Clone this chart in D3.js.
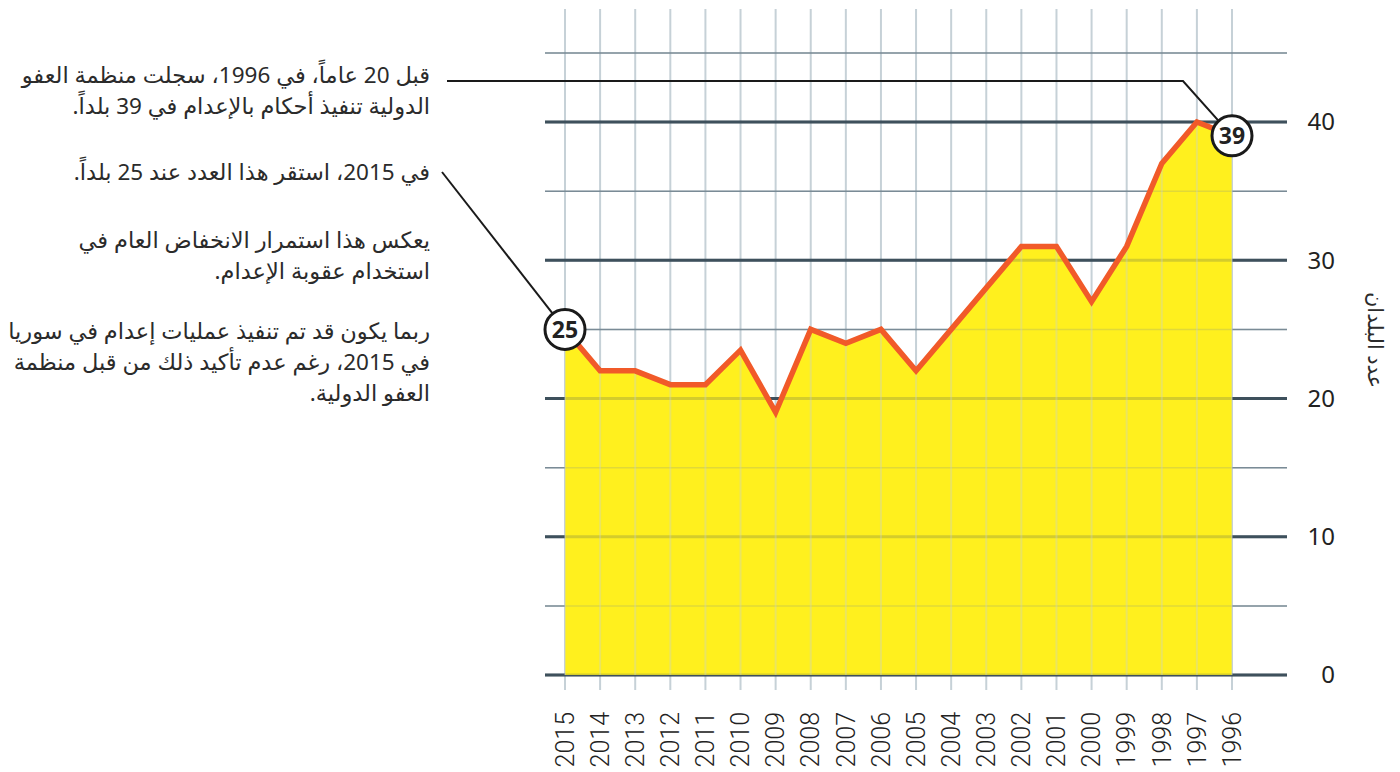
<!DOCTYPE html>
<html>
<head>
<meta charset="utf-8">
<script src="https://cdnjs.cloudflare.com/ajax/libs/d3/7.8.5/d3.min.js"></script>
<style>
body { margin: 0; background: #fff; }
svg { display: block; font-family: "Noto Sans", "DejaVu Sans", sans-serif; }
</style>
</head>
<body>
<script>
// عدد البلدان التي نفذت أحكام إعدام
var years = [2015, 2014, 2013, 2012, 2011, 2010, 2009, 2008, 2007, 2006,
             2005, 2004, 2003, 2002, 2001, 2000, 1999, 1998, 1997, 1996]
var counts = [25, 22, 22, 21, 21, 23.5, 19, 25, 24, 25,
              22, 25, 28, 31, 31, 27, 31, 37, 40, 39]
var yTicks = [0, 10, 20, 30, 40]
var gridValues = [0, 5, 10, 15, 20, 25, 30, 35, 40, 45]
var notes = [
  ["قبل 20 عاماً، في 1996، سجلت منظمة العفو", "الدولية تنفيذ أحكام بالإعدام في 39 بلداً."],
  ["في 2015، استقر هذا العدد عند 25 بلداً."],
  ["يعكس هذا استمرار الانخفاض العام في", "استخدام عقوبة الإعدام."],
  ["ربما يكون قد تم تنفيذ عمليات إعدام في سوريا", "في 2015، رغم عدم تأكيد ذلك من قبل منظمة", "العفو الدولية."]
]
var noteTops = [75, 172, 240, 331]
var yTitle = "عدد البلدان"

var width = 1400, height = 772

var svg = d3.select("body").append("svg")
  .attr("width", width)
  .attr("height", height)

var x = d3.scalePoint()
  .domain(years)
  .range([565, 1232])

var y = d3.scaleLinear()
  .domain([0, 40])
  .range([675, 122])

var data = years.map(function(yr, i) { return {year: yr, value: counts[i]} })

// vertical grid
svg.append("g").selectAll("line")
  .data(years)
  .join("line")
  .attr("x1", d => x(d)).attr("x2", d => x(d))
  .attr("y1", 9).attr("y2", 690)
  .attr("stroke", "#c6d1d7")
  .attr("stroke-width", 2)

function drawHGrid(g) {
  g.selectAll("line")
    .data(gridValues)
    .join("line")
    .attr("x1", 545).attr("x2", 1287)
    .attr("y1", d => y(d)).attr("y2", d => y(d))
    .attr("stroke", d => d % 10 == 0 ? "#3e505c" : "#7a8b96")
    .attr("stroke-width", d => d % 10 == 0 ? 3 : 1.5)
}
svg.append("g").call(drawHGrid)

var area = d3.area()
  .x(d => x(d.year))
  .y0(y(0))
  .y1(d => y(d.value))

svg.append("path")
  .datum(data)
  .attr("d", area)
  .attr("fill", "#fff01e")

// grid seen through the fill
svg.append("g").attr("opacity", 0.22).call(drawHGrid)
svg.append("g").attr("opacity", 0.35).selectAll("line")
  .data(years)
  .join("line")
  .attr("x1", d => x(d)).attr("x2", d => x(d))
  .attr("y1", d => y(counts[years.indexOf(d)])).attr("y2", 675)
  .attr("stroke", "#c6d1d7")
  .attr("stroke-width", 2)

var line = d3.line()
  .x(d => x(d.year))
  .y(d => y(d.value))

svg.append("path")
  .datum(data)
  .attr("d", line)
  .attr("fill", "none")
  .attr("stroke", "#f15a29")
  .attr("stroke-width", 5.5)
  .attr("stroke-linejoin", "miter")

// y axis labels
svg.append("g").selectAll("text")
  .data(yTicks)
  .join("text")
  .attr("x", 1335)
  .attr("y", d => y(d))
  .attr("dy", "0.35em")
  .attr("text-anchor", "end")
  .attr("font-size", 24)
  .attr("fill", "#222")
  .text(d => d)

svg.append("text")
  .attr("transform", "translate(1368,340) rotate(90)")
  .attr("text-anchor", "middle")
  .attr("font-size", 21)
  .attr("fill", "#2b2b2b")
  .text(yTitle)

// x axis labels
svg.append("g").selectAll("text")
  .data(years)
  .join("text")
  .attr("transform", d => "translate(" + x(d) + ",712) rotate(-90)")
  .attr("dy", "0.35em")
  .attr("text-anchor", "end")
  .attr("font-size", 25)
  .attr("font-family", "Roboto, 'Noto Sans', sans-serif")
  .attr("font-weight", 300)
  .attr("fill", "#222")
  .text(d => d)

// annotations
notes.forEach(function(lines, i) {
  var t = svg.append("text")
    .attr("direction", "rtl")
    .attr("text-anchor", "start")
    .attr("font-size", 22.5)
    .attr("fill", "#2b2b2b")
  lines.forEach(function(s, j) {
    t.append("tspan")
      .attr("x", 430)
      .attr("y", noteTops[i] + j * 31)
      .attr("dy", "0.35em")
      .text(s)
  })
})

var first = data[0], last = data[data.length - 1]

svg.append("path")
  .attr("d", "M447," + 81 + "H1183L" + x(last.year) + "," + y(last.value))
  .attr("fill", "none")
  .attr("stroke", "#1a1a1a")
  .attr("stroke-width", 2)

svg.append("path")
  .attr("d", "M442,172L" + x(first.year) + "," + y(first.value))
  .attr("fill", "none")
  .attr("stroke", "#1a1a1a")
  .attr("stroke-width", 2)

var badges = svg.append("g").selectAll("g")
  .data([first, last])
  .join("g")
  .attr("transform", d => "translate(" + x(d.year) + "," + y(d.value) + ")")

badges.append("circle")
  .attr("r", 20)
  .attr("fill", "#fff")
  .attr("stroke", "#1a1a1a")
  .attr("stroke-width", 3)

badges.append("text")
  .attr("text-anchor", "middle")
  .attr("dy", "0.36em")
  .attr("font-size", 23)
  .attr("font-weight", "bold")
  .attr("fill", "#222")
  .text(d => d.value)
</script>
</body>
</html>
